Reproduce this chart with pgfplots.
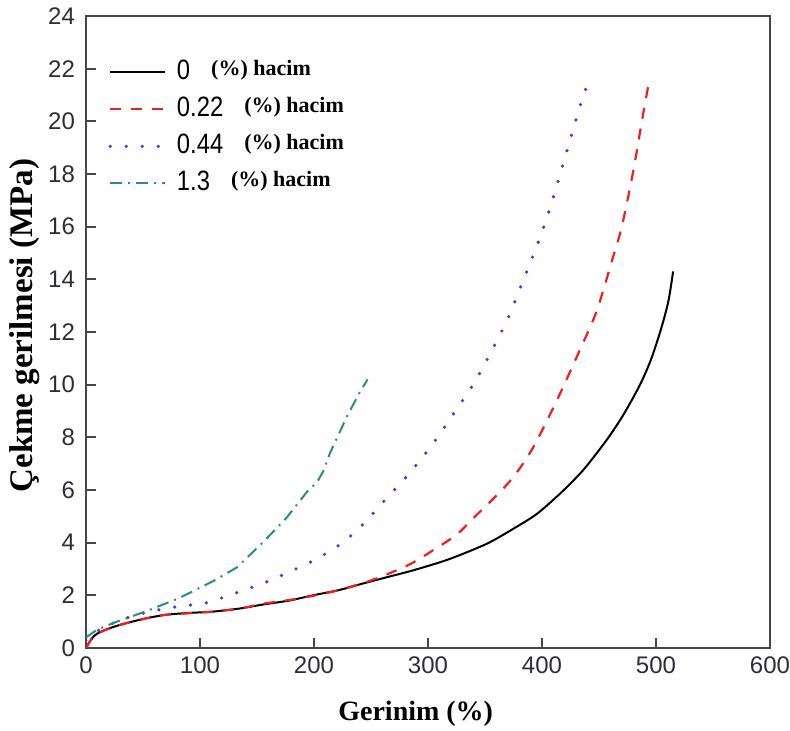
\documentclass[border=0pt]{standalone}
\usepackage{fontspec}
\setmainfont{Liberation Serif}
\setsansfont{Liberation Sans}
\newfontfamily\legnum[FakeStretch=0.85]{Liberation Sans}
\usepackage{pgfplots}
\pgfplotsset{compat=1.18}
\definecolor{axgray}{RGB}{70,70,70}
\definecolor{tickc}{RGB}{45,45,55}
\definecolor{cred}{RGB}{240,30,30}
\definecolor{cblue}{RGB}{60,60,225}
\definecolor{cteal}{RGB}{45,140,130}
\newcommand{\leg}[1]{{\legnum\fontsize{14}{16}\selectfont #1}\hspace{10.5pt}\raisebox{2pt}{\bfseries\fontsize{11}{13}\selectfont (\%) hacim}}
\begin{document}
\begin{tikzpicture}
\begin{axis}[
  scale only axis, width=342pt, height=316pt,
  xmin=0, xmax=600, ymin=0, ymax=24,
  xtick={0,100,...,600}, ytick={0,2,...,24},
  tick align=inside, tick pos=left,
  major tick length=5pt,
  axis line style={axgray, line width=1pt},
  every tick/.style={axgray, line width=1pt},
  tick label style={font=\sffamily\fontsize{12}{14}\selectfont, text=tickc},
  yticklabel style={xshift=-2pt},
  xticklabel style={yshift=-1pt},
  /pgf/number format/assume math mode=true,
  xlabel={Gerinim (\%)},
  ylabel={Çekme gerilmesi (MPa)},
  xlabel style={font=\bfseries\fontsize{14}{16}\selectfont, at={(axis description cs:0.482,-0.1045)}, anchor=center},
  ylabel style={font=\bfseries\fontsize{16.5}{19}\selectfont, at={(axis description cs:-0.0892,0.51)}, anchor=center},
  legend image code/.code={\draw[#1] (0pt,0pt) -- (27.5pt,0pt);},
  legend style={at={(axis description cs:0,1)}, anchor=north west, xshift=11pt, yshift=-21.5pt,
    draw=none, fill=none, inner sep=0pt, row sep=5.5pt,
    nodes={text height=10pt, text depth=3pt, inner sep=0pt},
    /tikz/every odd column/.append style={column sep=5pt}},
  legend cell align=left,
]
\addplot[black, line width=1pt, smooth] table {
0 0
5 0.35
10 0.55
24 0.8
45 1.05
68 1.25
90 1.33
111 1.38
135 1.5
155 1.65
178 1.8
199 2.0
222 2.2
243 2.45
265 2.7
287 2.95
317 3.35
346 3.85
360 4.15
389 4.9
400 5.25
418 5.95
435 6.7
448 7.4
460 8.1
472 8.9
486 10.0
496 11.0
505 12.2
511 13.2
515 14.3
};
\addlegendentry{\leg{0}}
\addplot[cred, line width=1.1pt, dash pattern=on 5.5pt off 5pt, smooth] table {
0 0
5 0.35
10 0.55
24 0.8
45 1.05
68 1.25
90 1.32
111 1.38
135 1.5
155 1.68
178 1.82
199 1.98
222 2.2
249 2.55
267 2.85
285 3.2
304 3.7
325 4.3
339 4.9
358 5.7
375 6.5
392 7.6
413 9.4
433 11.3
448 12.8
462 14.8
470 16.0
480 18.1
488 20.1
493 21.3
};
\addlegendentry{\leg{0.22}}
\addplot[cblue, line width=1.8pt, line cap=round, dash pattern=on 0pt off 8pt, smooth] table {
0 0.3
5 0.5
10 0.65
24 0.95
40 1.2
53 1.35
70 1.5
85 1.6
106 1.72
132 2.1
155 2.45
179 2.9
203 3.4
225 4.0
243 4.7
264 5.7
285 6.7
305 7.8
324 9.0
341 10.1
356 11.3
370 12.5
382 13.8
394 15.1
404 16.3
414 17.7
426 19.5
435 20.8
439 21.3
};
\addlegendentry{\leg{0.44}}
\addplot[cteal, line width=1pt, dash pattern=on 6pt off 3pt on 1pt off 3pt] table {
0 0.4
5 0.55
10 0.7
24 0.95
53 1.4
82 1.9
112 2.55
132 3.05
155 4.0
176 4.95
196 6.05
202 6.25
208 6.7
214 7.4
229 8.8
240 9.7
247 10.2
};
\addlegendentry{\leg{1.3}}
\end{axis}
\pgfresetboundingbox
\path ([shift={(-43pt,-41.5pt)}]current axis.south west) rectangle ([shift={(10pt,8pt)}]current axis.north east);
\end{tikzpicture}
\end{document}
